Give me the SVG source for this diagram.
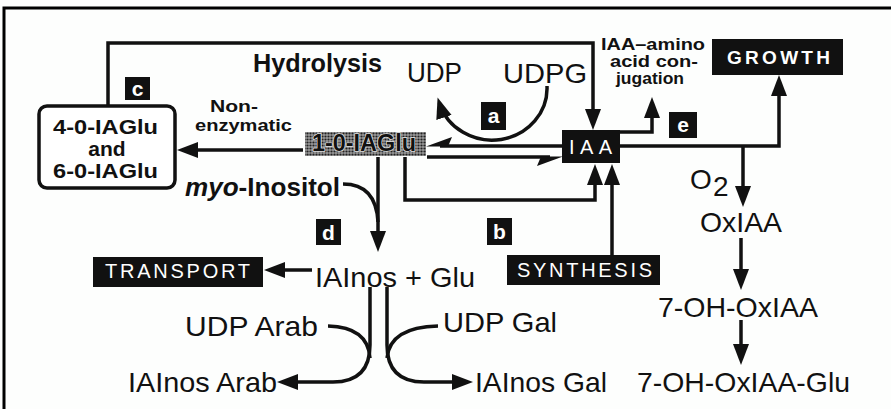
<svg xmlns="http://www.w3.org/2000/svg" width="891" height="409" viewBox="0 0 891 409">
<style>
.bg{fill:#fdfefd}
.ln{fill:none;stroke:#111;stroke-width:3.5}
.fr{fill:none;stroke:#000;stroke-width:3}
.t{font-family:"Liberation Sans",Arial,sans-serif;font-size:28px;fill:#111}
.b{font-family:"Liberation Sans",Arial,sans-serif;font-weight:bold;fill:#111}
.w{font-family:"Liberation Sans",Arial,sans-serif;fill:#fff}
.blk{fill:#111}
.lab{font-family:"Liberation Sans",Arial,sans-serif;font-weight:bold;font-size:21px;fill:#fff;text-anchor:middle}
</style>
<defs>
<marker id="ah" markerUnits="userSpaceOnUse" markerWidth="22" markerHeight="18" refX="15" refY="8" orient="auto">
<path d="M0,0 L21,8 L0,16 z" fill="#111"/>
</marker>
<pattern id="dots" width="3" height="3" patternUnits="userSpaceOnUse">
<rect width="3" height="3" fill="#9a9a9a"/>
<circle cx="1.5" cy="1.5" r="1.1" fill="#222"/>
</pattern>
</defs>
<rect class="bg" width="891" height="409"/>
<path class="fr" d="M4,409 V8 H891"/>

<g id="connectors">
<path class="ln" d="M108,106 V43 H593 V124" marker-end="url(#ah)"/>
<path class="ln" d="M303,150 H183" marker-end="url(#ah)"/>
<path class="ln" d="M562,146 H440"/>
<polygon points="426,146.5 452,137 448,146.5" fill="#111"/>
<path class="ln" d="M427,157 H550"/>
<polygon points="563,156.5 537,166 541,156.5" fill="#111"/>
<path class="ln" d="M547,86 A55,52 0 0 1 439.4,103.2" marker-end="url(#ah)"/>
<path class="ln" d="M378,157 V246" marker-end="url(#ah)"/>
<path class="ln" d="M343,184 Q376,184 378,222"/>
<path class="ln" d="M405,157 V200 H595 V170" marker-end="url(#ah)"/>
<path class="ln" d="M612,255 V170" marker-end="url(#ah)"/>
<path class="ln" d="M620,132 H652 V103" marker-end="url(#ah)"/>
<path class="ln" d="M620,146 H779 V81" marker-end="url(#ah)"/>
<path class="ln" d="M743,146 V201" marker-end="url(#ah)"/>
<path class="ln" d="M741,238 V284" marker-end="url(#ah)"/>
<path class="ln" d="M741,320 V359" marker-end="url(#ah)"/>
<path class="ln" d="M312,270 H270" marker-end="url(#ah)"/>
<path class="ln" d="M370,287 V345 Q370,382 333,382 H283" marker-end="url(#ah)"/>
<path class="ln" d="M328,326 Q368,327 370,358"/>
<path class="ln" d="M387,287 V345 Q387,382 424,382 H467" marker-end="url(#ah)"/>
<path class="ln" d="M438,326 Q390,327 387,358"/>
</g>

<g id="hydrolysis"><text class="b" x="253" y="72" font-size="25" textLength="129" lengthAdjust="spacingAndGlyphs">Hydrolysis</text></g>
<g id="udp"><text class="t" x="407" y="82" textLength="55" lengthAdjust="spacingAndGlyphs">UDP</text></g>
<g id="udpg"><text class="t" x="503" y="83" textLength="84" lengthAdjust="spacingAndGlyphs">UDPG</text></g>

<g id="label-a"><rect class="blk" x="481" y="102" width="25" height="28"/><text class="lab" x="493.5" y="123">a</text></g>
<g id="label-b"><rect class="blk" x="487" y="218" width="25" height="27"/><text class="lab" x="499.5" y="239">b</text></g>
<g id="label-c"><rect class="blk" x="125" y="77" width="25" height="23"/><text class="lab" x="137.5" y="96">c</text></g>
<g id="label-d"><rect class="blk" x="316" y="219" width="25" height="26"/><text class="lab" x="328.5" y="240">d</text></g>
<g id="label-e"><rect class="blk" x="669" y="112" width="28" height="26"/><text class="lab" x="683" y="132">e</text></g>

<g id="iaglu-4-6">
<rect x="39" y="106" width="136" height="82" rx="8" fill="#fff" stroke="#111" stroke-width="3.5"/>
<text class="b" x="53" y="134" font-size="21" textLength="105" lengthAdjust="spacingAndGlyphs">4-0-IAGlu</text>
<text class="b" x="107" y="156" font-size="21" text-anchor="middle">and</text>
<text class="b" x="53" y="178" font-size="21" textLength="105" lengthAdjust="spacingAndGlyphs">6-0-IAGlu</text>
</g>
<g id="nonenzymatic">
<text class="b" x="210" y="112" font-size="16.5" textLength="48" lengthAdjust="spacingAndGlyphs">Non-</text>
<text class="b" x="195" y="131" font-size="16.5" textLength="97" lengthAdjust="spacingAndGlyphs">enzymatic</text>
</g>
<g id="iaglu-1">
<rect x="305" y="132" width="121" height="24" fill="url(#dots)"/>
<text class="b" x="312" y="151" font-size="23" textLength="104" lengthAdjust="spacingAndGlyphs" stroke="#e0e0e0" stroke-width="1.5" paint-order="stroke">1-0-IAGlu</text>
</g>
<g id="iaa"><rect class="blk" x="562" y="130" width="58" height="33"/><text class="w" x="569" y="154" font-size="20" textLength="43" lengthAdjust="spacing">IAA</text></g>
<g id="conjugation">
<text class="b" font-size="16.5" text-anchor="middle"><tspan x="653" y="50" textLength="104" lengthAdjust="spacingAndGlyphs">IAA–amino</tspan><tspan x="654" y="67" textLength="88" lengthAdjust="spacingAndGlyphs">acid con-</tspan><tspan x="650" y="84" textLength="68" lengthAdjust="spacingAndGlyphs">jugation</tspan></text>
</g>
<g id="growth"><rect class="blk" x="712" y="39" width="131" height="36"/><text class="w" x="727" y="64" font-size="19" font-weight="bold" textLength="103" lengthAdjust="spacing">GROWTH</text></g>
<g id="myo"><text class="b" x="185" y="196" font-size="26" textLength="155" lengthAdjust="spacingAndGlyphs"><tspan font-style="italic">myo</tspan>-Inositol</text></g>
<g id="iainos-glu"><text class="t" x="315" y="287" font-size="29" textLength="160" lengthAdjust="spacingAndGlyphs">IAInos + Glu</text></g>
<g id="transport"><rect class="blk" x="93" y="257" width="170" height="30"/><text class="w" x="105" y="278" font-size="20" textLength="145" lengthAdjust="spacing">TRANSPORT</text></g>
<g id="synthesis"><rect class="blk" x="507" y="255" width="153" height="30"/><text class="w" x="517" y="277" font-size="20" textLength="135" lengthAdjust="spacing">SYNTHESIS</text></g>
<g id="udp-arab"><text class="t" x="185" y="336" textLength="133" lengthAdjust="spacingAndGlyphs">UDP Arab</text></g>
<g id="udp-gal"><text class="t" x="443" y="332" textLength="114" lengthAdjust="spacingAndGlyphs">UDP Gal</text></g>
<g id="iainos-arab"><text class="t" x="128" y="392" textLength="149" lengthAdjust="spacingAndGlyphs">IAInos Arab</text></g>
<g id="iainos-gal"><text class="t" x="475" y="392" textLength="132" lengthAdjust="spacingAndGlyphs">IAInos Gal</text></g>
<g id="o2"><text class="t" x="690" y="189">O</text><text class="t" x="713" y="196" font-size="20">2</text></g>
<g id="oxiaa"><text class="t" x="700" y="232" textLength="82" lengthAdjust="spacingAndGlyphs">OxIAA</text></g>
<g id="oh-oxiaa"><text class="t" x="658" y="317" textLength="160" lengthAdjust="spacingAndGlyphs">7-OH-OxIAA</text></g>
<g id="oh-oxiaa-glu"><text class="t" x="637" y="392" textLength="213" lengthAdjust="spacingAndGlyphs">7-OH-OxIAA-Glu</text></g>
</svg>
